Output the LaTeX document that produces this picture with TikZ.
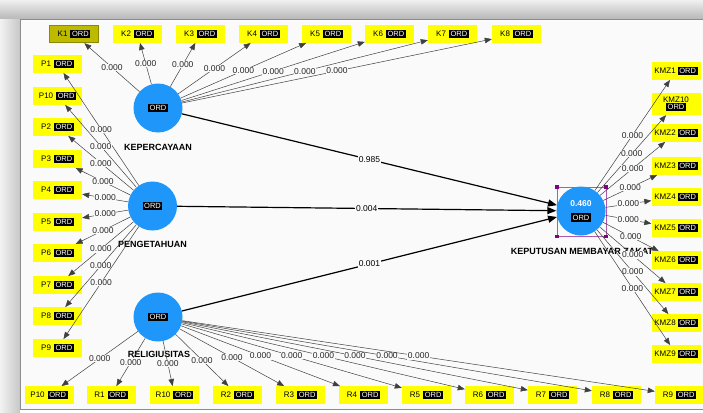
\documentclass[tikz,border=0pt]{standalone}
\usepackage{fontspec}
\setmainfont{Liberation Sans}
\usetikzlibrary{arrows.meta,calc}
\definecolor{panel}{HTML}{FAFAFA}
\definecolor{lvblue}{RGB}{30,150,250}
\definecolor{indyel}{RGB}{255,255,0}
\definecolor{selyel}{RGB}{190,186,0}
\definecolor{selyelb}{RGB}{140,138,0}
\definecolor{selpur}{RGB}{175,90,175}
\definecolor{selsq}{RGB}{130,0,130}
\newcommand{\ordtag}{{\fontsize{7.5}{8}\selectfont\setlength{\fboxsep}{1.6pt}\colorbox{black}{\textcolor{white}{ORD}}}}
\tikzset{
 ind/.style={fill=indyel, minimum width=49pt, minimum height=17.5pt, inner sep=0pt, font=\fontsize{8}{9}\selectfont},
 lv/.style={circle, fill=lvblue, minimum size=49pt, inner sep=0pt},
 lvname/.style={font=\bfseries\fontsize{9}{10}\selectfont, inner sep=0pt},
 load/.style={draw=black!75, line width=0.5pt, -{Triangle[length=7pt,width=5.5pt]}},
 pathc/.style={draw=black, line width=1.2pt, -{Triangle[length=9pt,width=7pt]}},
 lbl/.style={fill=panel, inner sep=0.6pt, font=\fontsize{8.5}{9}\selectfont, text=black!85},
 plbl/.style={fill=panel, inner sep=0.8pt, font=\fontsize{8.5}{9}\selectfont, text=black},
}
\begin{document}
\begin{tikzpicture}[x=1pt,y=-1pt]
\useasboundingbox (0,0) rectangle (703,412);
% frame
\fill[white] (0,0) rectangle (703,412);
\shade[left color=black!5, right color=black!22] (0,0) rectangle (20,412);
\shade[top color=black!6, bottom color=black!28] (0,0) rectangle (703,19);
\draw[draw=black!45, fill=panel, line width=0.8pt] (20.4,19.4) rectangle (706,409);
% indicators
\node[ind, fill=selyel, draw=selyelb, line width=0.8pt] (K1) at (74,34) {K1\hspace{3pt}\ordtag};
\foreach \n/\x in {K2/137.5,K3/200.5,K4/263.5,K5/326.5,K6/389.5,K7/452.5,K8/516.5}
  \node[ind] (\n) at (\x,34) {\n\hspace{3pt}\ordtag};
\foreach \n/\y in {P1/64,P10/96,P2/127,P3/159,P4/190,P5/222,P6/253,P7/285,P8/316,P9/348}
  \node[ind] (\n) at (57.5,\y) {\n\hspace{3pt}\ordtag};
\foreach \n/\t/\x in {bP10/P10/49,R1/R1/111,R10/R10/174.5,R2/R2/237.5,R3/R3/300.5,R4/R4/363.5,R5/R5/426.5,R6/R6/489.5,R7/R7/552.5,R8/R8/616.5,R9/R9/679.5}
  \node[ind] (\n) at (\x,395) {\t\hspace{3pt}\ordtag};
\foreach \n/\y in {KMZ1/71,KMZ2/133,KMZ3/166,KMZ4/197,KMZ5/228,KMZ6/260,KMZ7/292,KMZ8/323,KMZ9/354}
  \node[ind] (\n) at (676,\y) {\n\hspace{2pt}\ordtag};
\node[ind, minimum height=22pt, align=center] (KMZ10) at (676,104) {KMZ10\\[-1.5pt]\ordtag};
% latent variables
\node[lv] (kp) at (158,108) {\ordtag};
\node[lv] (pg) at (152.5,206) {\ordtag};
\node[lv] (rl) at (158,317) {\ordtag};
\node[lv, align=center] (kz) at (581,211) {\textcolor{white}{\bfseries\fontsize{8.5}{9}\selectfont 0.460}\\[2pt]\ordtag};
\node[lvname] (nkp) at (158,147) {KEPERCAYAAN};
\node[lvname] (npg) at (152.5,244) {PENGETAHUAN};
\node[lvname] (nrl) at (159,354) {RELIGIUSITAS};
\node[lvname] (nkz) at (582,251) {KEPUTUSAN MEMBAYAR ZAKAT};
% selection frame
\draw[selpur, line width=0.6pt] (557,187) rectangle (606,236.5);
\foreach \p in {(557,187),(606,187),(557,236.5),(606,236.5)}
  \fill[selsq] \p ++(-1.8,-1.8) rectangle ++(3.6,3.6);
% loadings
\foreach \t in {K1,K2,K3,K4,K5,K6,K7,K8}
  \draw[load] (kp) -- node[lbl]{0.000} (\t);
\foreach \t in {P1,P10,P2,P3,P4,P5,P6,P7,P8,P9}
  \draw[load] (pg) -- node[lbl]{0.000} (\t);
\foreach \t in {bP10,R1,R10,R2,R3,R4,R5,R6,R7,R8,R9}
  \draw[load] (rl) -- node[lbl]{0.000} (\t);
\foreach \t in {KMZ1,KMZ10,KMZ2,KMZ3,KMZ4,KMZ5,KMZ6,KMZ7,KMZ8,KMZ9}
  \draw[load] (kz) -- node[lbl]{0.000} (\t);
% structural paths
\draw[pathc] (kp) -- node[plbl]{0.985} (kz);
\draw[pathc] (pg) -- node[plbl]{0.004} (kz);
\draw[pathc] (rl) -- node[plbl]{0.001} (kz);
\end{tikzpicture}
\end{document}
